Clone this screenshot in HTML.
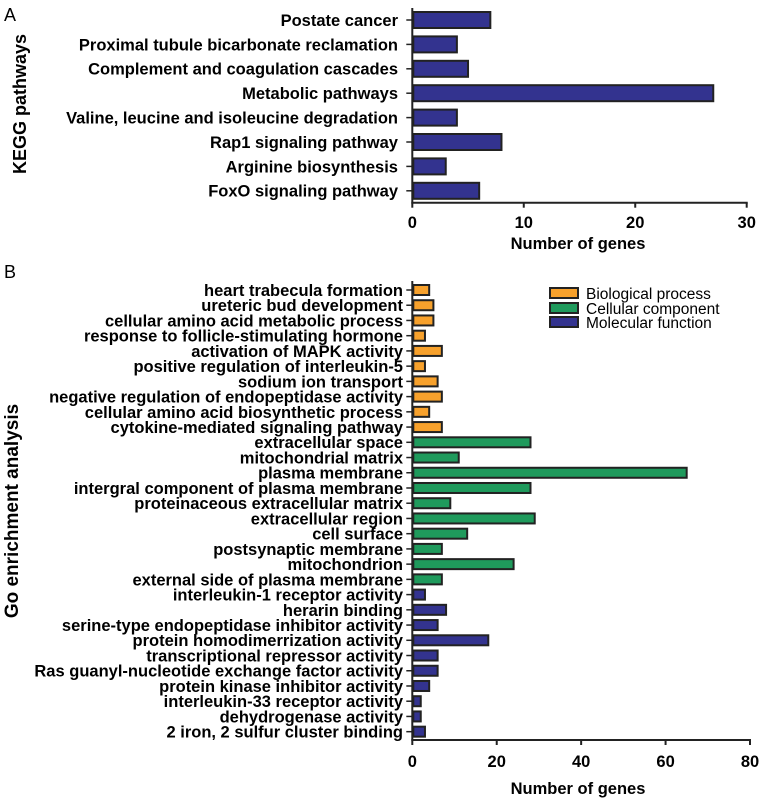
<!DOCTYPE html>
<html><head><meta charset="utf-8"><style>
body{margin:0;background:#fff;}
svg{display:block;font-family:"Liberation Sans",Arial,sans-serif;}
</style></head><body>
<svg id="chart" width="765" height="803" viewBox="0 0 765 803">
<text x="4" y="21" font-size="18">A</text>
<text x="4" y="278" font-size="18">B</text>
<text transform="translate(26,104) rotate(-90)" text-anchor="middle" font-size="18" font-weight="bold">KEGG pathways</text>
<text transform="translate(18,511) rotate(-90)" text-anchor="middle" font-size="19" font-weight="bold">Go enrichment analysis</text>
<text x="578" y="249" text-anchor="middle" font-size="16.5" font-weight="bold">Number of genes</text>
<text x="578" y="794" text-anchor="middle" font-size="16.5" font-weight="bold">Number of genes</text>
<g>
<g><rect x="550" y="288" width="28" height="10" fill="#f7a12c" stroke="#222" stroke-width="2"/><text x="586" y="299" font-size="15.5">Biological process</text></g>
<g><rect x="550" y="303" width="28" height="10" fill="#1f9a5c" stroke="#222" stroke-width="2"/><text x="586" y="314" font-size="15.5">Cellular component</text></g>
<g><rect x="550" y="317" width="28" height="10" fill="#33338f" stroke="#222" stroke-width="2"/><text x="586" y="328" font-size="15.5">Molecular function</text></g>
</g>
<g id="ga"></g><g id="gb"></g>
</svg>
<script>
const keggCategories=["Postate cancer","Proximal tubule bicarbonate reclamation","Complement and coagulation cascades","Metabolic pathways","Valine, leucine and isoleucine degradation","Rap1 signaling pathway","Arginine biosynthesis","FoxO signaling pathway"];
const keggValues=[7,4,5,27,4,8,3,6];
const keggTicks=[0,10,20,30];
const goCategories=["heart trabecula formation","ureteric bud development","cellular amino acid metabolic process","response to follicle-stimulating hormone","activation of MAPK activity","positive regulation of interleukin-5","sodium ion transport","negative regulation of endopeptidase activity","cellular amino acid biosynthetic process","cytokine-mediated signaling pathway","extracellular space","mitochondrial matrix","plasma membrane","intergral component of plasma membrane","proteinaceous extracellular matrix","extracellular region","cell surface","postsynaptic membrane","mitochondrion","external side of plasma membrane","interleukin-1 receptor activity","herarin binding","serine-type endopeptidase inhibitor activity","protein homodimerrization activity","transcriptional repressor activity","Ras guanyl-nucleotide exchange factor activity","protein kinase inhibitor activity","interleukin-33 receptor activity","dehydrogenase activity","2 iron, 2 sulfur cluster binding"];
const goValues=[4,5,5,3,7,3,6,7,4,7,28,11,65,28,9,29,13,7,24,7,3,8,6,18,6,6,4,2,2,3];
const goGroups=["BP","BP","BP","BP","BP","BP","BP","BP","BP","BP","CC","CC","CC","CC","CC","CC","CC","CC","CC","CC","MF","MF","MF","MF","MF","MF","MF","MF","MF","MF"];
const goTicks=[0,20,40,60,80];
const NS="http://www.w3.org/2000/svg";
const colors={BP:"#f7a12c",CC:"#1f9a5c",MF:"#33338f"};
function mk(p,t,a){const e=document.createElementNS(NS,t);for(const k in a)e.setAttribute(k,a[k]);p.appendChild(e);return e;}
function panel(g,cats,vals,grp,ticks,x0,x1,max,yFirst,step,axisY,yTop,barH,labelX,tickY,fs,prefix){
  const xs=v=>x0+(x1-x0)*v/max;
  const ys=i=>yFirst+i*step;
  let l=mk(g,"line",{x1:x0,y1:yTop,x2:x0,y2:axisY,stroke:"#222","stroke-width":2});
  
  
  l=mk(g,"line",{x1:x0-1,y1:axisY,x2:x1+1,y2:axisY,stroke:"#222","stroke-width":2});
  
  
  ticks.forEach(t=>{
    mk(g,"line",{x1:xs(t),y1:axisY,x2:xs(t),y2:axisY+5,stroke:"#222","stroke-width":2});
    const tx=mk(g,"text",{x:xs(t),y:tickY,"text-anchor":"middle","font-size":16.5,"font-weight":"bold"});
    tx.textContent=t;
    
    
  });
  cats.forEach((c,i)=>{
    const y=ys(i);
    mk(g,"line",{x1:x0-6,y1:y,x2:x0,y2:y,stroke:"#222","stroke-width":1.5});
    const r=mk(g,"rect",{x:x0+1,y:y-barH/2,width:Math.max(0,xs(vals[i])-x0-1),height:barH,fill:colors[grp?grp[i]:"MF"],stroke:"#222","stroke-width":2});
    
    
    const t=mk(g,"text",{x:labelX,y:y+fs*0.36,"text-anchor":"end","font-size":fs,"font-weight":"bold"});
    t.textContent=c;
    
    
  });
}
panel(document.getElementById("ga"),keggCategories,keggValues,null,keggTicks,412.3,746.7,30,20,24.4,202.7,8,16,398,228,16.5,"kegg");
panel(document.getElementById("gb"),goCategories,goValues,goGroups,goTicks,412.3,750,80,290,15.23,740,281,10,403,767,16.5,"go");
</script>
</body></html>
